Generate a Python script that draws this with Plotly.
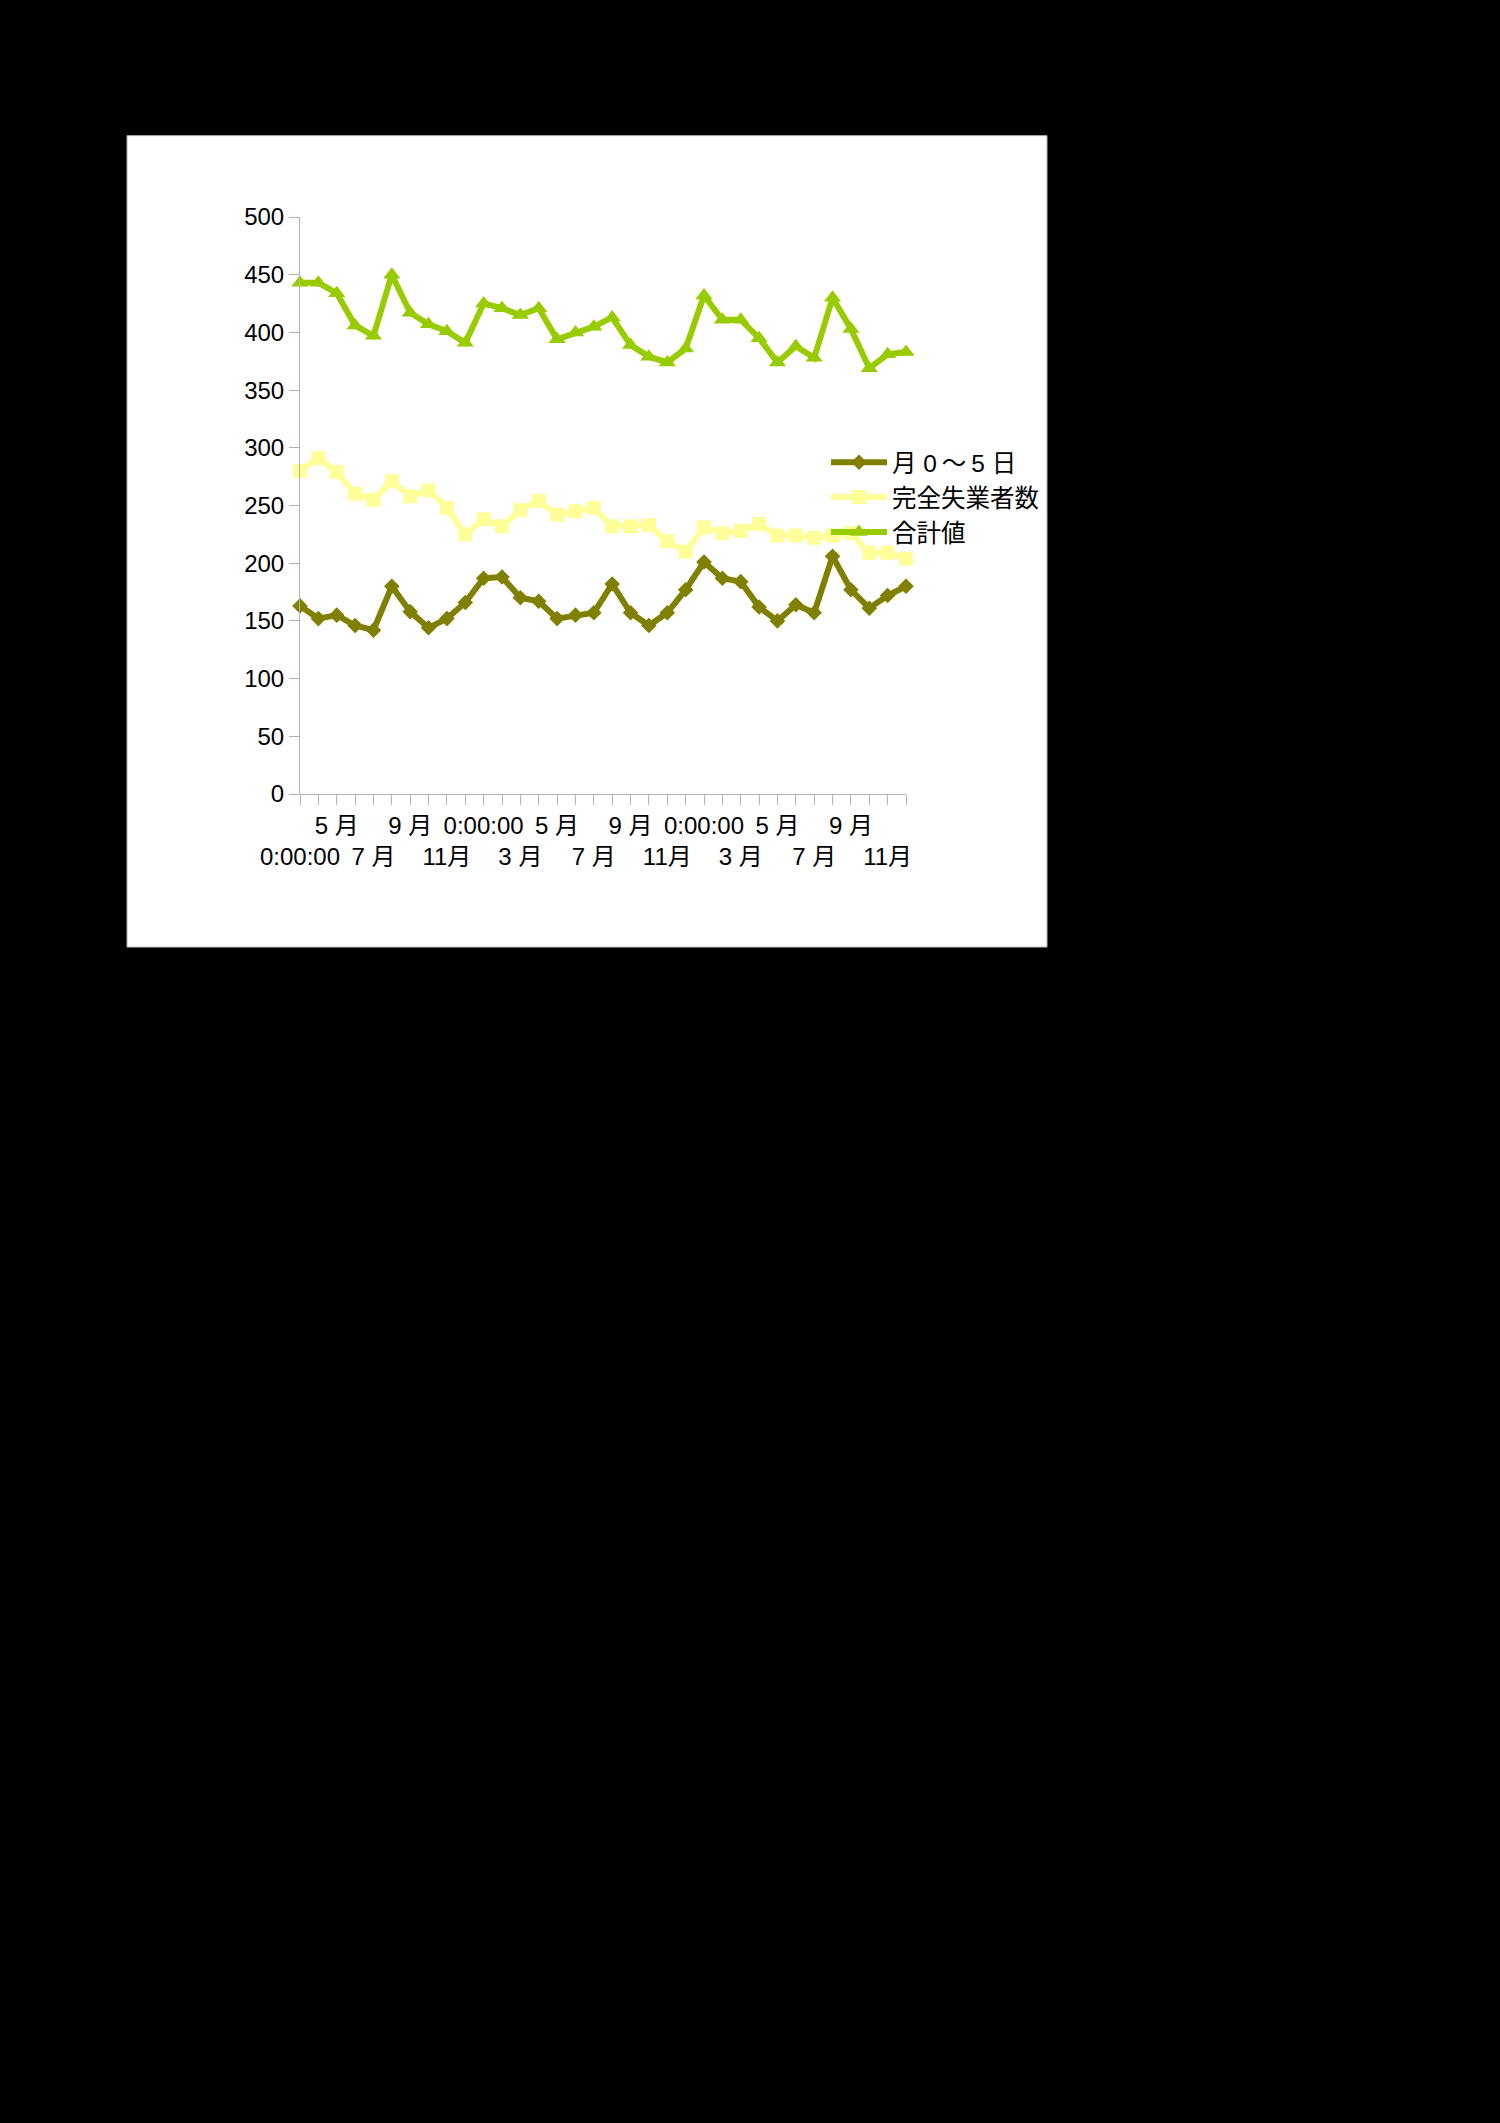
import plotly.graph_objects as go

# ---- data ----
months_idx = list(range(34))
tick_labels = ["0:00:00", "", "5 月", "", "7 月", "", "9 月", "", "11月", "",
               "0:00:00", "", "3 月", "", "5 月", "", "7 月", "", "9 月", "",
               "11月", "", "0:00:00", "", "3 月", "", "5 月", "", "7 月", "",
               "9 月", "", "11月", ""]
series_names = ["月 0\u2009～\u20095 日", "完全失業者数", "合計値"]
brown_vals = [163, 152, 155, 146, 142, 180, 158, 144, 152, 166,
              187, 188, 170, 167, 152, 155, 157, 182, 157, 146,
              157, 177, 201, 187, 184, 162, 150, 164, 157, 206,
              177, 161, 172, 180]
yellow_vals = [280, 291, 279, 260, 255, 271, 258, 263, 248, 225,
               238, 232, 246, 254, 242, 245, 248, 232, 232, 233,
               219, 210, 231, 226, 228, 234, 224, 224, 222, 224,
               226, 209, 209, 204]
green_vals = [443, 443, 434, 406, 397, 450, 417, 407, 401, 391,
              425, 421, 415, 421, 394, 400, 405, 413, 389, 379,
              374, 386, 432, 411, 411, 395, 374, 388, 378, 430,
              403, 369, 381, 383]
y_ticks = [0, 50, 100, 150, 200, 250, 300, 350, 400, 450, 500]

W, H = 1500, 2123
FONT = "Liberation Sans, Arial, Noto Sans CJK JP, sans-serif"

# plot area in pixels
PL, PR, PT, PB = 300, 906, 217.3, 794
PW, PH = PR - PL, PB - PT


def px_x(p):
    return (p - PL) / PW


def px_y(p):
    return (PB - p) / PH


# two-row tick labels: labels at index 2,6,10... on row 1; 0,4,8... on row 2
ticktext = []
for i, t in enumerate(tick_labels):
    if t == "":
        ticktext.append("")
    elif i % 4 == 0:
        ticktext.append("<br>" + t)
    else:
        ticktext.append(t)

fig = go.Figure()
styles = [
    dict(color="#808000", symbol="diamond", size=12),
    dict(color="#ffff99", symbol="square", size=14),
    dict(color="#99cc00", symbol="triangle-up", size=15),
]
for name, vals, st in zip(series_names, [brown_vals, yellow_vals, green_vals], styles):
    fig.add_trace(go.Scatter(
        x=months_idx, y=vals, name=name, mode="lines+markers",
        line=dict(color=st["color"], width=6),
        marker=dict(color=st["color"], symbol=st["symbol"], size=st["size"]),
        cliponaxis=False,
    ))

fig.update_layout(
    width=W, height=H, autosize=False,
    margin=dict(l=PL, r=W - PR, t=PT, b=H - PB, pad=0),
    paper_bgcolor="black",
    plot_bgcolor="rgba(0,0,0,0)",
    font=dict(family=FONT, size=24, color="black"),
    showlegend=True,
    legend=dict(
        x=px_x(826), y=px_y(440), xanchor="left", yanchor="top",
        bgcolor="rgba(0,0,0,0)", borderwidth=0,
        font=dict(family=FONT, size=24.5, color="black"),
        itemwidth=56, tracegroupgap=0,
    ),
    shapes=[dict(
        type="rect", xref="paper", yref="paper", layer="below",
        x0=px_x(127), x1=px_x(1047), y0=px_y(947), y1=px_y(136),
        fillcolor="white", line=dict(color="#b0b0b0", width=1),
    )],
    xaxis=dict(
        range=[0, 33], automargin=False,
        tickmode="array", tickvals=months_idx, ticktext=ticktext,
        ticks="outside", ticklen=10, tickcolor="#b3b3b3", tickwidth=1,
        showline=True, linecolor="#b3b3b3", linewidth=1,
        showgrid=False, zeroline=False, tickangle=0,
        tickfont=dict(family=FONT, size=24, color="black"),
        fixedrange=True,
    ),
    yaxis=dict(
        range=[0, 500], automargin=False,
        tickmode="array", tickvals=y_ticks,
        ticks="outside", ticklen=10, tickcolor="#b3b3b3", tickwidth=1,
        showline=True, linecolor="#b3b3b3", linewidth=1,
        showgrid=False, zeroline=False,
        tickfont=dict(family=FONT, size=24, color="black"),
        fixedrange=True,
    ),
)

fig.write_html("out.html", config={"displayModeBar": False, "responsive": False},
               post_script="document.body.style.margin='0';document.body.style.background='black';document.body.style.overflow='hidden';")
